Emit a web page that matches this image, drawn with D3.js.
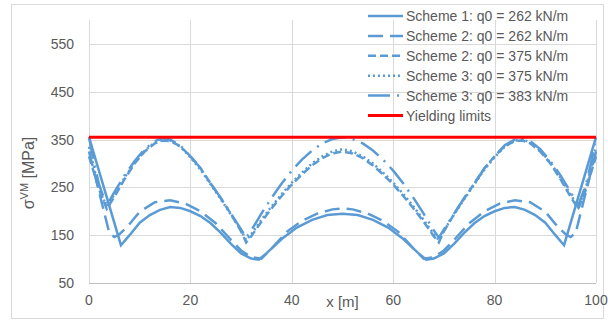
<!DOCTYPE html>
<html>
<head>
<meta charset="utf-8">
<script src="https://cdn.jsdelivr.net/npm/d3@7"></script>
<style>
  body { margin: 0; background: #fff; }
  svg text { font-family: "Liberation Sans", Arial, sans-serif; fill: #595959; }
</style>
</head>
<body>
<svg id="chart"></svg>
<script>
var xTicks = [0, 20, 40, 60, 80, 100];
var yTicks = [50, 150, 250, 350, 450, 550];
var yieldLimit = 355;

// Scheme 1, q0 = 262
var s1x = [0, 6.3, 8, 10, 12, 14, 16, 18, 20, 22, 24, 26, 28, 30, 32, 33.5, 35, 38, 41, 44, 47, 50,
    53, 56, 59, 62, 65, 66.5, 68, 70, 72, 74, 76, 78, 80, 82, 84, 86, 88, 90, 92, 93.7, 100];
var s1v = [355, 129, 150, 176, 192, 203, 209, 207, 200, 190, 175, 155, 132, 112, 101, 99, 112, 142, 166, 182, 192, 195,
    192, 182, 166, 142, 112, 99, 101, 112, 132, 155, 175, 190, 200, 207, 209, 203, 192, 176, 150, 129, 355];

// Scheme 2, q0 = 262
var s2ax = [0, 2, 4, 5, 6, 7.5, 10, 13, 16, 19, 22, 25, 28, 30, 32, 34, 36, 39, 42, 45, 48, 50,
    52, 55, 58, 61, 64, 66, 68, 70, 72, 75, 78, 81, 84, 87, 90, 92.5, 94, 95, 96, 98, 100];
var s2av = [325, 240, 155, 146, 152, 167, 199, 219, 223, 216, 200, 175, 140, 118, 104, 101, 122, 157, 180, 195, 204, 206,
    204, 195, 180, 157, 122, 101, 104, 118, 140, 175, 200, 216, 223, 219, 199, 167, 152, 146, 155, 240, 325];

// upper group shares its x positions
var upX = [0, 1, 2, 3.5, 5, 7, 9, 11, 13, 14.5, 16, 18, 20, 22, 24, 26, 28, 30, 31, 32, 34, 36, 38, 40, 42, 44, 46, 48, 50,
    52, 54, 56, 58, 60, 62, 64, 66, 68, 69, 70, 72, 74, 76, 78, 80, 82, 84, 85.5, 87, 89, 91, 93, 95, 96.5, 98, 99, 100];

// Scheme 2, q0 = 375
var s2bv = [315, 280, 245, 205, 230, 267, 300, 325, 342, 348, 347, 336, 315, 290, 258, 227, 194, 158, 135, 148, 178, 206, 232, 256, 277, 296, 311, 321, 325,
    321, 311, 296, 277, 256, 232, 206, 178, 148, 135, 158, 194, 227, 258, 290, 315, 336, 347, 348, 342, 325, 300, 267, 230, 205, 245, 280, 315];
// Scheme 3, q0 = 375
var s3av = [335, 290, 250, 208, 235, 270, 302, 327, 344, 350, 348, 335, 313, 287, 256, 225, 193, 160, 140, 152, 182, 210, 236, 260, 281, 300, 315, 325, 330,
    325, 315, 300, 281, 260, 236, 210, 182, 152, 140, 160, 193, 225, 256, 287, 313, 335, 348, 350, 344, 327, 302, 270, 235, 208, 250, 290, 335];
// Scheme 3, q0 = 383
var s3bv = [355, 300, 255, 212, 240, 275, 305, 330, 347, 353, 350, 338, 315, 290, 258, 228, 195, 162, 145, 160, 195, 228, 258, 285, 308, 327, 342, 351, 355,
    351, 342, 327, 308, 285, 258, 228, 195, 160, 145, 162, 195, 228, 258, 290, 315, 338, 350, 353, 347, 330, 305, 275, 240, 212, 255, 300, 355];

var seriesNames = ["Scheme 1: q0 = 262 kN/m", "Scheme 2: q0 = 262 kN/m", "Scheme 2: q0 = 375 kN/m",
    "Scheme 3: q0 = 375 kN/m", "Scheme 3: q0 = 383 kN/m", "Yielding limits"];

function zip(xs, vs) {
    return xs.map(function(x, i) { return { x: x, v: vs[i] }; });
}

var series = [
    { name: seriesNames[0], pts: zip(s1x, s1v), dash: null },
    { name: seriesNames[1], pts: zip(s2ax, s2av), dash: "15,7" },
    { name: seriesNames[2], pts: zip(upX, s2bv), dash: "8,4" },
    { name: seriesNames[3], pts: zip(upX, s3av), dash: "2,3" },
    { name: seriesNames[4], pts: zip(upX, s3bv), dash: "22,7,2,7" }
];

var W = 608, H = 322;
var margin = { top: 20, right: 12, bottom: 39, left: 89 };
var width = 596 - margin.left,
    height = 283 - margin.top;

var svg = d3.select("#chart")
    .attr("width", W)
    .attr("height", H);

// outer frame
svg.append("rect")
    .attr("x", 11.5).attr("y", 4.5)
    .attr("width", 592).attr("height", 314)
    .attr("fill", "none")
    .attr("stroke", "#d9d9d9");

var x = d3.scaleLinear().domain([0, 100]).range([0, width]);
var y = d3.scaleLinear().domain([50, 600]).range([height, 0]);

var g = svg.append("g")
    .attr("transform", "translate(" + margin.left + "," + margin.top + ")");

// gridlines
g.append("g").selectAll("line.h")
    .data(yTicks)
    .enter().append("line")
    .attr("x1", 0).attr("x2", width)
    .attr("y1", function(d) { return Math.round(y(d)) + 0.5; })
    .attr("y2", function(d) { return Math.round(y(d)) + 0.5; })
    .attr("stroke", "#d9d9d9");

g.append("g").selectAll("line.v")
    .data(xTicks)
    .enter().append("line")
    .attr("y1", 0).attr("y2", height)
    .attr("x1", function(d) { return Math.round(x(d)) + 0.5; })
    .attr("x2", function(d) { return Math.round(x(d)) + 0.5; })
    .attr("stroke", "#d9d9d9");

// bottom axis line
g.append("line")
    .attr("x1", 0).attr("x2", width)
    .attr("y1", Math.round(y(50)) + 0.5).attr("y2", Math.round(y(50)) + 0.5)
    .attr("stroke", "#bfbfbf");

// tick labels
g.selectAll(".ylab")
    .data(yTicks)
    .enter().append("text")
    .attr("class", "ylab")
    .attr("x", -15)
    .attr("y", function(d) { return y(d) + 5; })
    .attr("text-anchor", "end")
    .style("font-size", "14px")
    .text(function(d) { return d; });

g.selectAll(".xlab")
    .data(xTicks)
    .enter().append("text")
    .attr("class", "xlab")
    .attr("x", function(d) { return x(d); })
    .attr("y", height + 22)
    .attr("text-anchor", "middle")
    .style("font-size", "14px")
    .text(function(d) { return d; });

// axis titles
g.append("text")
    .attr("x", x(50))
    .attr("y", height + 24)
    .attr("text-anchor", "middle")
    .style("font-size", "15px")
    .text("x [m]");

var yt = svg.append("text")
    .attr("transform", "translate(34,173) rotate(-90)")
    .attr("text-anchor", "middle")
    .style("font-size", "16px");
yt.append("tspan").text("σ");
yt.append("tspan").attr("dy", -6).style("font-size", "11px").text("VM");
yt.append("tspan").attr("dy", 6).text(" [MPa]");

var line = d3.line()
    .x(function(d) { return x(d.x); })
    .y(function(d) { return y(d.v); });

g.selectAll(".series")
    .data(series)
    .enter().append("path")
    .attr("class", "series")
    .attr("d", function(d) { return line(d.pts); })
    .attr("fill", "none")
    .attr("stroke", "#5b9bd5")
    .attr("stroke-width", 2.5)
    .attr("stroke-dasharray", function(d) { return d.dash; });

// yield limit
g.append("line")
    .attr("x1", x(0)).attr("x2", x(100))
    .attr("y1", y(yieldLimit)).attr("y2", y(yieldLimit))
    .attr("stroke", "#ff0000")
    .attr("stroke-width", 3);

// legend
var legendItems = series.map(function(s) { return { name: s.name, dash: s.dash, color: "#5b9bd5" }; });
legendItems.push({ name: seriesNames[5], dash: null, color: "#ff0000" });

var legend = svg.append("g").selectAll("g")
    .data(legendItems)
    .enter().append("g")
    .attr("transform", function(d, i) { return "translate(368," + (16 + i * 19.9) + ")"; });

legend.append("line")
    .attr("x1", 0).attr("x2", 35)
    .attr("stroke", function(d) { return d.color; })
    .attr("stroke-width", function(d) { return d.color === "#ff0000" ? 3 : 2.5; })
    .attr("stroke-dasharray", function(d) { return d.dash; });

legend.append("text")
    .attr("x", 38)
    .attr("y", 5)
    .style("font-size", "14px")
    .text(function(d) { return d.name; });
</script>
</body>
</html>
